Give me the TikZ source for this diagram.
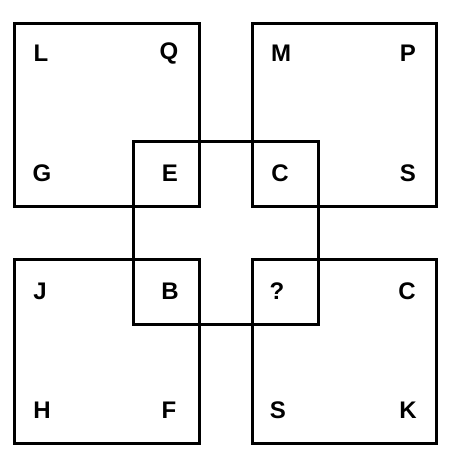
\documentclass[tikz,border=0pt]{standalone}
\usepackage{fontspec}
\setmainfont{Liberation Sans}
\usepackage{tikz}

\begin{document}
\begin{tikzpicture}[x=1pt,y=-1pt,line width=3pt]
\useasboundingbox (0,0) rectangle (454,461);
% four corner squares and the middle one
\draw (14,23) rectangle (199,206);
\draw (252,23) rectangle (436,206);
\draw (14,259) rectangle (199,443);
\draw (252,259) rectangle (436,443);
\draw (133,141) rectangle (318,324);
\tikzset{every node/.style={font=\fontsize{24}{24}\selectfont\bfseries}}
\node (l) at (41,53) {L};
\node (q) at (169,53) {Q};
\node (m) at (281,53) {M};
\node (p) at (408,53) {P};
\node (g) at (42,173) {G};
\node (e) at (170,173) {E};
\node (c) at (280,173) {C};
\node (s) at (408,173) {S};
\node (j) at (40,291) {J};
\node (b) at (170,291) {B};
\node (x) at (277,291) {?};
\node (c2) at (407,291) {C};
\node (h) at (42,410) {H};
\node (f) at (169,410) {F};
\node (s2) at (278,410) {S};
\node (k) at (408,410) {K};
\end{tikzpicture}
\end{document}
